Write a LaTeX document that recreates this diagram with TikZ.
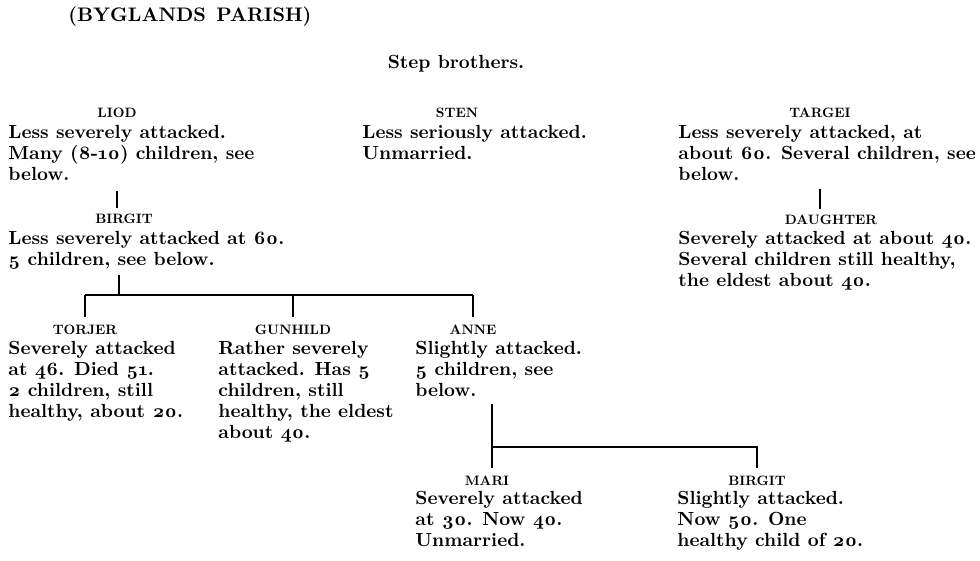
\documentclass[tikz,border=0pt]{standalone}
\usepackage{fontspec}
\setmainfont{lmroman10-regular.otf}[BoldFont=lmroman10-bold.otf, ItalicFont=lmroman10-italic.otf, Numbers=OldStyle]
\usetikzlibrary{positioning,calc}

\begin{document}
\begin{tikzpicture}[
    x=0.5pt, y=-0.5pt,
    who/.style={font=\bfseries\fontsize{6.8}{8}\selectfont, inner sep=0pt, anchor=base},
    note/.style={font=\bfseries\fontsize{9.5}{10.5}\selectfont, align=left, inner sep=0pt, anchor=north west, yshift=6.6pt},
    kin/.style={line width=0.9pt}
]
\useasboundingbox (0,0) rectangle (980,561);

\node[anchor=base west, inner sep=0pt, font=\bfseries\fontsize{9.8}{12}\selectfont] (parish) at (68,22) {(BYGLANDS\hspace{1.5pt} PARISH)};
\node[anchor=base, inner sep=0pt, font=\bfseries\fontsize{9.5}{10.5}\selectfont] (steps) at (456,69) {Step brothers.};

% step brothers
\node[who] (liod) at (117,117.5) {LIOD};
\node[note] (liodtxt) at (8,138) {Less severely attacked.\\Many (8-10) children, see\\below.};
\node[who] (sten) at (457,117.5) {STEN};
\node[note] (stentxt) at (362,138) {Less seriously attacked.\\Unmarried.};
\node[who] (targei) at (820,117.5) {TARGEI};
\node[note] (targeitxt) at (678,138) {Less severely attacked, at\\about 60. Several children, see\\below.};

% second row
\node[who] (birgit) at (124,223.5) {BIRGIT};
\node[note] (birgittxt) at (8,244) {Less severely attacked at 60.\\5 children, see below.};
\node[who] (daughter) at (831,224.5) {DAUGHTER};
\node[note] (daughtertxt) at (678,244) {Severely attacked at about 40.\\Several children still healthy,\\the eldest about 40.};

% children of Birgit
\node[who] (torjer) at (85,334.5) {TORJER};
\node[note] (torjertxt) at (8,354) {Severely attacked\\at 46. Died 51.\\2 children, still\\healthy, about 20.};
\node[who] (gunhild) at (293,334.5) {GUNHILD};
\node[note] (gunhildtxt) at (218,354) {Rather severely\\attacked. Has 5\\children, still\\healthy, the eldest\\about 40.};
\node[who] (anne) at (473,334.5) {ANNE};
\node[note] (annetxt) at (415,354) {Slightly attacked.\\5 children, see\\below.};

% children of Anne
\node[who] (mari) at (487,485.5) {MARI};
\node[note] (maritxt) at (415,504) {Severely attacked\\at 30. Now 40.\\Unmarried.};
\node[who] (birgitb) at (757,485.5) {BIRGIT};
\node[note] (birgitbtxt) at (677,504) {Slightly attacked.\\Now 50. One\\healthy child of 20.};

\coordinate (bfork) at (119,295);
\coordinate (afork) at (492,447);

\draw[kin, shorten <=5pt, shorten >=3pt] (liodtxt.south -| liod) -- (birgit.north -| liod);
\draw[kin, shorten <=4pt, shorten >=3pt] (targeitxt.south -| targei) -- (daughter.north -| targei);
\draw[kin, shorten <=2.5pt] (birgittxt.south -| bfork) -- (bfork);
\draw[kin] (torjer.north |- bfork) -- (anne.north |- bfork);
\foreach \kid in {torjer,gunhild,anne}
  \draw[kin, shorten >=4pt] (\kid.north |- bfork) -- (\kid.north);
\draw[kin, shorten <=3.5pt, shorten >=4pt] (annetxt.south -| afork) -- (mari.north -| afork);
\draw[kin, shorten >=4pt] (afork) -| (birgitb.north);
\end{tikzpicture}
\end{document}
